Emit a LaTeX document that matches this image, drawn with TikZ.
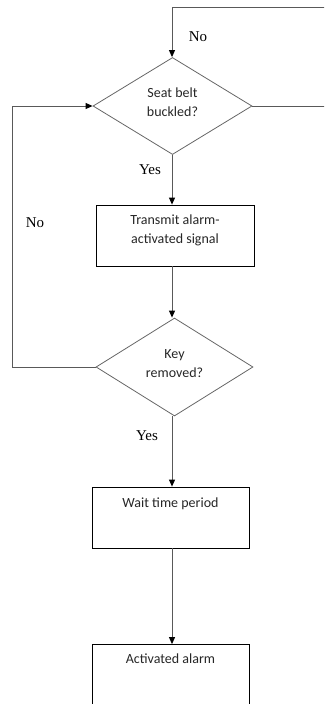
\documentclass[tikz,border=0pt]{standalone}
\usepackage{fontspec}
\setmainfont{Carlito}
\newfontfamily\labelfont{Liberation Serif}
\usetikzlibrary{shapes.geometric,arrows.meta}
\begin{document}
\begin{tikzpicture}[x=1pt,y=-1pt,
  box/.style={draw=black,line width=0.8pt,minimum width=158pt,minimum height=61pt,inner sep=0pt},
  dec/.style={diamond,draw=black!60,line width=0.8pt,minimum width=159pt,minimum height=97pt,inner sep=0pt,aspect=1.64},
  txt/.style={font=\fontsize{14}{19}\selectfont,text=black!85,align=center,inner sep=0pt},
  lab/.style={font=\labelfont\fontsize{15}{18}\selectfont,text=black,inner sep=0pt},
  arr/.style={draw=black!65,line width=0.9pt,-{Triangle[length=7pt,width=6pt,color=black]}}]
\useasboundingbox (0,0) rectangle (324,704);
\clip (0,0) rectangle (324,704);
\coordinate (col) at (172,0);
\coordinate (rt) at (330,7);
\coordinate (lf) at (12,0);
% shapes
\node[dec] (d1) at (172.5,106) {};
\node[dec,minimum width=157pt,minimum height=98pt] (d2) at (174.5,367) {};
\node[box] (b1) at (175,235.5) {};
\node[box,minimum width=157pt] (b3) at (170.5,517.5) {};
\node[box,minimum width=157pt] (b4) at (170.5,675) {};
% texts
\node[txt] (t1) at ([yshift=4pt]d1.center) {Seat belt\\buckled?};
\node[txt] (t2) at ([yshift=3.5pt]d2.center) {Key\\removed?};
\node[txt,anchor=north] (t3) at ([yshift=-9.5pt]b1.north) {Transmit alarm-\\activated signal};
\node[txt,anchor=north] (t4) at ([yshift=-11pt]b3.north) {Wait time period};
\node[txt,anchor=north] (t5) at ([yshift=-9.5pt]b4.north) {Activated alarm};
% connectors
\draw[arr] (d1.south -| col) -- (b1.north -| col);
\draw[arr] (b1.south -| col) -- (d2.north -| col);
\draw[arr] (d2.south -| col) -- (b3.north -| col);
\draw[arr] (b3.south -| col) -- (b4.north -| col);
\draw[arr] (d1.east) -- (d1.east -| rt) -- (rt) -- (rt -| col) -- (d1.north -| col);
\draw[arr] (d2.west) -- (d2.west -| lf) -- (d1.west -| lf) -- (d1.west);
% labels
\node[lab] (n1) at (198,37) {No};
\node[lab] (y1) at (150,170) {Yes};
\node[lab] (n2) at (35,223) {No};
\node[lab] (y2) at (147,436) {Yes};
\end{tikzpicture}
\end{document}
